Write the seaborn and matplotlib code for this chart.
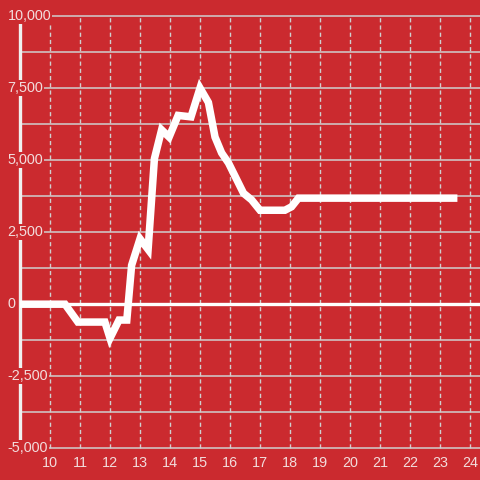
import numpy as np
import pandas as pd
import seaborn as sns
import matplotlib.pyplot as plt

# values
hours = [9.0, 10.5, 10.93, 11.83, 12.0, 12.3, 12.56, 12.72, 13.0, 13.27, 13.48,
         13.72, 13.97, 14.27, 14.7, 15.0, 15.28, 15.5, 15.72, 15.95, 16.45,
         16.72, 17.0, 17.83, 18.05, 18.28, 23.58]
values = [0, 0, -620, -620, -1180, -550, -550, 1350, 2270, 1900, 5050,
          6050, 5800, 6550, 6500, 7500, 7000, 5800, 5250, 4900, 3850,
          3620, 3260, 3260, 3380, 3680, 3680]

y_ticks = [-5000, -2500, 0, 2500, 5000, 7500, 10000]
y_grid = np.arange(-5000, 10001, 1250)
x_ticks = list(range(10, 25))

bg = "#cb2a2f"
text_col = "#f2dcdc"
grid_col = "#cfcfcf"

df = pd.DataFrame({"hour": hours, "value": values})

sns.set_style("white", {"axes.facecolor": bg, "figure.facecolor": bg})
plt.rcParams["font.family"] = ["Liberation Sans", "DejaVu Sans"]

fig = plt.figure(figsize=(4.8, 4.8), dpi=100)
ax = fig.add_axes([0, 0, 1, 1])
ax.set_xlim(8.333, 24.333)
ax.set_ylim(-6100, 10555)
ax.set_axis_off()
ax.add_artist(plt.Rectangle((0, 0), 1, 1, transform=ax.transAxes, color=bg, zorder=0))

# horizontal grid
ax.hlines(y_grid, 9, 24.333, colors=grid_col, linewidth=1.1, zorder=1)
# vertical dashed grid
ax.vlines(x_ticks, -5000, 10000, colors=grid_col, linewidth=1.0,
          linestyles=(0, (3, 2.2)), zorder=1)
# zero line and y axis line
ax.hlines(0, 9, 24.333, colors="white", linewidth=2.4, zorder=2)
ax.vlines(9, -5000, 10000, colors="#f0f0f0", linewidth=2.4, zorder=2)

sns.lineplot(data=df, x="hour", y="value", ax=ax, color="white", linewidth=5.4,
             zorder=3)
for ln in ax.get_lines():
    ln.set_solid_joinstyle("miter")
    ln.set_solid_capstyle("butt")

box = dict(facecolor=bg, edgecolor="none", pad=0.6)
for v in y_ticks:
    ax.text(0.016, v, f"{v:,}", transform=ax.get_yaxis_transform(),
            ha="left", va="center", fontsize=10.4, color=text_col,
            bbox=box, zorder=5)
for h in x_ticks:
    ax.text(h, 0.035, str(h), transform=ax.get_xaxis_transform(),
            ha="center", va="center", fontsize=10.4, color=text_col, zorder=5)

fig.savefig("out.png", dpi=100, facecolor=bg)
